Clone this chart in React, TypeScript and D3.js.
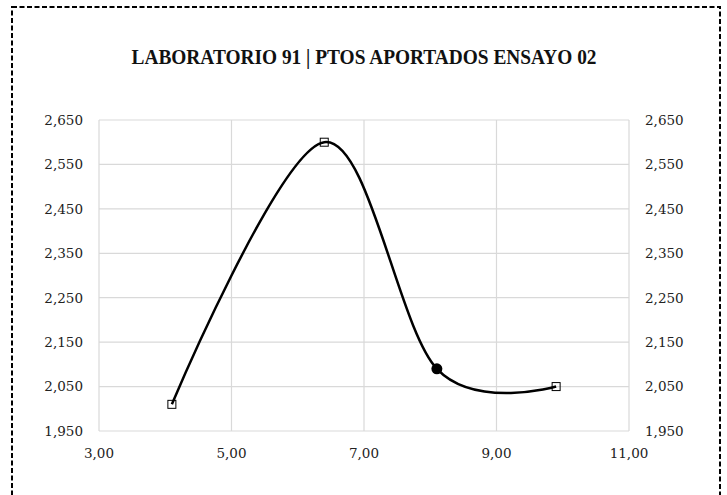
import React from "react";
import * as d3 from "d3";

const xTicks = [3, 5, 7, 9, 11];
const yTicks = [1950, 2050, 2150, 2250, 2350, 2450, 2550, 2650];
const seriesX = [4.1, 6.4, 8.1, 9.9];
const seriesY = [2010, 2600, 2090, 2050];
const markerTypes = ["square", "square", "circle", "square"];
const title = "LABORATORIO 91 | PTOS APORTADOS ENSAYO 02";

const W = 727;
const H = 495;
const plot = { left: 99, right: 629, top: 120, bottom: 431 };

export default function App() {
  const x = d3.scaleLinear().domain([3, 11]).range([plot.left, plot.right]);
  const y = d3.scaleLinear().domain([1950, 2650]).range([plot.bottom, plot.top]);
  const pts: [number, number][] = seriesX.map((v, i) => [v, seriesY[i]]);
  const line = d3
    .line<[number, number]>()
    .x((d) => x(d[0]))
    .y((d) => y(d[1]))
    .curve(d3.curveCardinal.tension(0));
  const fmtX = (v: number) => v.toFixed(2).replace(".", ",");
  const fmtY = (v: number) => d3.format(",")(v);
  const tickFont = "'DejaVu Serif', serif";
  return (
    <svg
      width={W}
      height={H}
      style={{ position: "absolute", left: 0, top: 0, background: "#fff" }}
    >
      <rect x={0} y={0} width={W} height={H} fill="#fff" />
      <rect
        x={12}
        y={7}
        width={708}
        height={500}
        fill="none"
        stroke="#000"
        strokeWidth={2}
        strokeDasharray="5,2.5"
      />
      <text
        x={364}
        y={64}
        textAnchor="middle"
        fontFamily="'Liberation Serif', serif"
        fontWeight="bold"
        fontSize={20}
        textLength={465}
        lengthAdjust="spacingAndGlyphs"
        fill="#111"
      >
        {title}
      </text>
      {yTicks.map((t) => (
        <line
          key={"gy" + t}
          x1={plot.left}
          x2={plot.right}
          y1={y(t)}
          y2={y(t)}
          stroke="#d9d9d9"
          strokeWidth={1.2}
        />
      ))}
      {xTicks.map((t) => (
        <line
          key={"gx" + t}
          x1={x(t)}
          x2={x(t)}
          y1={plot.top}
          y2={plot.bottom}
          stroke="#d9d9d9"
          strokeWidth={1.2}
        />
      ))}
      {yTicks.map((t) => (
        <text
          key={"ly" + t}
          x={83}
          y={y(t)}
          dy="0.36em"
          textAnchor="end"
          fontFamily={tickFont}
          fontSize={13.5}
          fill="#222"
        >
          {fmtY(t)}
        </text>
      ))}
      {yTicks.map((t) => (
        <text
          key={"ry" + t}
          x={645}
          y={y(t)}
          dy="0.36em"
          textAnchor="start"
          fontFamily={tickFont}
          fontSize={13.5}
          fill="#222"
        >
          {fmtY(t)}
        </text>
      ))}
      {xTicks.map((t) => (
        <text
          key={"lx" + t}
          x={x(t)}
          y={457.5}
          textAnchor="middle"
          fontFamily={tickFont}
          fontSize={13.5}
          fill="#222"
        >
          {fmtX(t)}
        </text>
      ))}
      <path d={line(pts) || ""} fill="none" stroke="#000" strokeWidth={2.5} />
      {pts.map((p, i) =>
        markerTypes[i] === "circle" ? (
          <circle key={"m" + i} cx={x(p[0])} cy={y(p[1])} r={5.5} fill="#000" />
        ) : (
          <rect
            key={"m" + i}
            x={x(p[0]) - 4}
            y={y(p[1]) - 4}
            width={8}
            height={8}
            fill="none"
            stroke="#000"
            strokeWidth={1}
          />
        )
      )}
    </svg>
  );
}
